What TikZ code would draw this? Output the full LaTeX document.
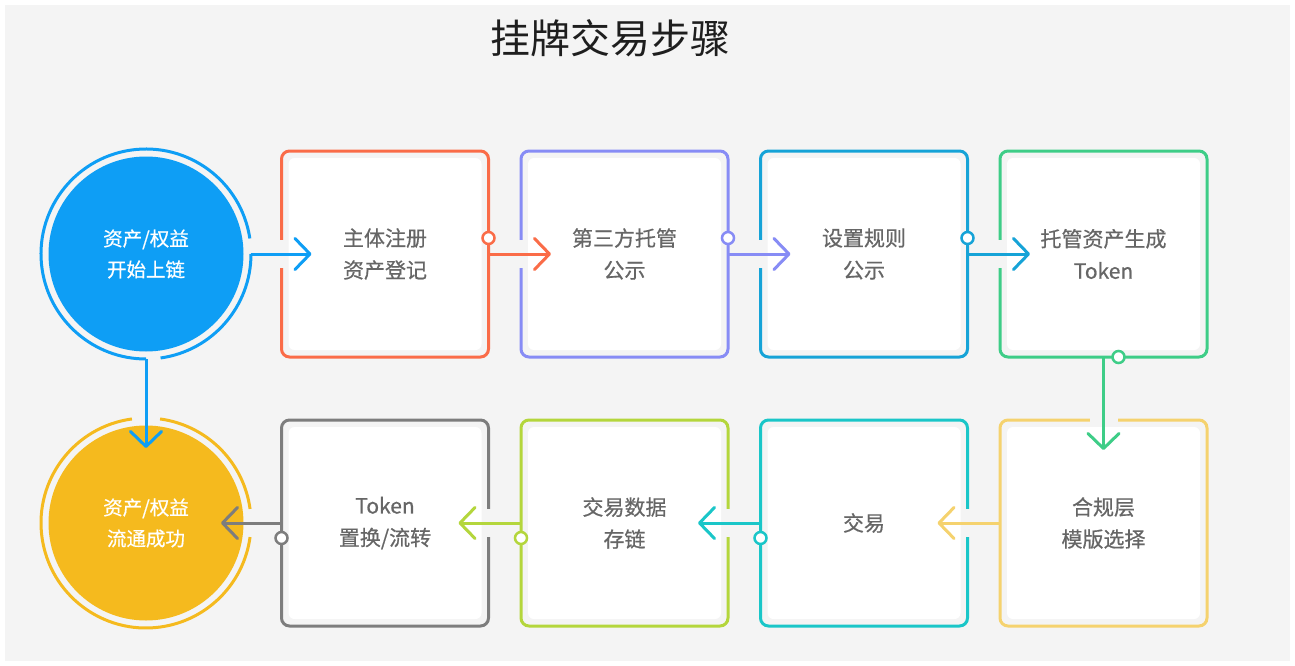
\documentclass[tikz,border=0pt]{standalone}
\usepackage{fontspec}
\setmainfont{Noto Sans CJK SC}
\newfontfamily\stepfont[FakeBold=0.6]{Noto Sans CJK SC}
\usetikzlibrary{positioning, arrows.meta}

\definecolor{bggray}{RGB}{244,244,244}
\definecolor{txtgray}{RGB}{102,102,102}
\definecolor{titleblack}{RGB}{30,30,30}
\definecolor{cstart}{RGB}{14,158,245}
\definecolor{cdone}{RGB}{245,186,30}
\definecolor{corange}{RGB}{250,108,72}
\definecolor{cpurple}{RGB}{135,140,245}
\definecolor{cblue}{RGB}{22,163,215}
\definecolor{cgreen}{RGB}{62,205,135}
\definecolor{cyellow}{RGB}{245,210,110}
\definecolor{cteal}{RGB}{26,198,200}
\definecolor{clime}{RGB}{180,214,60}
\definecolor{cgray}{RGB}{125,125,125}

\begin{document}
\begin{tikzpicture}[x=1pt, y=1pt, node distance=32.5pt,
  stepbox/.style={rectangle, draw=#1, line width=3pt, rounded corners=8pt,
    fill=bggray, minimum width=207pt, minimum height=206pt,
    inner sep=0pt, outer sep=0pt, text=txtgray, align=center,
    font=\stepfont\fontsize{21pt}{32pt}\selectfont,
    path picture={\fill[white, rounded corners=6pt]
      ([shift={(7pt,7pt)}]path picture bounding box.south west) rectangle
      ([shift={(-7pt,-7pt)}]path picture bounding box.north east);}},
  endnode/.style={circle, fill=#1, minimum size=195pt, inner sep=0pt,
    outer sep=0pt, text=white, align=center,
    font=\stepfont\fontsize{19.5pt}{31pt}\selectfont},
  ring/.style={draw=#1, line width=3pt},
  flow/.style={draw=#1, line width=3pt,
    -{Straight Barb[length=15pt, width=31pt, round]}},
  portdot/.style={circle, draw=#1, line width=2.5pt, fill=white,
    minimum size=12pt, inner sep=0pt}]

  \useasboundingbox (0,0) rectangle (1295,-666);
  \fill[white] (0,0) rectangle (1295,-666);
  \fill[bggray] (5,-5) rectangle (1290,-661);

  \node[text=titleblack, font=\fontsize{40pt}{44pt}\selectfont] (title) at (610,-38) {挂牌交易步骤};

  % steps, top row left to right, bottom row right to left
  \node[stepbox=corange] (b1) at (385,-254) {主体注册\\资产登记};
  \node[stepbox=cpurple, right=of b1] (b2) {第三方托管\\公示};
  \node[stepbox=cblue, right=of b2] (b3) {设置规则\\公示};
  \node[stepbox=cgreen, right=of b3] (b4) {托管资产生成\\Token};
  \node[stepbox=cyellow, below=63pt of b4] (b5) {合规层\\模版选择};
  \node[stepbox=cteal, left=of b5] (b6) {交易};
  \node[stepbox=clime, left=of b6] (b7) {交易数据\\存链};
  \node[stepbox=cgray, left=of b7] (b8) {Token\\置换/流转};

  \node[endnode=cstart, left=38pt of b1] (start) {资产/权益\\开始上链};
  \node[endnode=cdone, left=38pt of b8] (done) {资产/权益\\流通成功};

  % openings where the arrows come in
  \foreach \a in {b1.west, b2.west, b3.west, b4.west, b6.east, b7.east, b8.east}
    \fill[bggray] ([shift={(-3pt,-14pt)}]\a) rectangle ([shift={(3pt,14pt)}]\a);
  \fill[bggray] ([shift={(-14pt,-3pt)}]b5.north) rectangle ([shift={(14pt,3pt)}]b5.north);

  % rings round the two end nodes
  \draw[ring=cstart] ([shift={(8.5:105pt)}]start.center) arc[start angle=8.5, end angle=270, radius=105pt];
  \draw[ring=cstart] ([shift={(-82:105pt)}]start.center) arc[start angle=-82, end angle=0, radius=105pt];
  \draw[ring=cdone] ([shift={(7.7:105pt)}]done.center) arc[start angle=7.7, end angle=82.3, radius=105pt];
  \draw[ring=cdone] ([shift={(97.7:105pt)}]done.center) arc[start angle=97.7, end angle=352.3, radius=105pt];

  % connectors
  \draw[flow=cstart] ([xshift=105pt]start.center) -- ([xshift=30pt]b1.west);
  \draw[flow=cstart] ([yshift=-105pt]start.center) -- ([yshift=75pt]done.center);
  \draw[flow=corange] (b1.east) -- ([xshift=30pt]b2.west);
  \draw[flow=cpurple] (b2.east) -- ([xshift=30pt]b3.west);
  \draw[flow=cblue] (b3.east) -- ([xshift=30pt]b4.west);
  \draw[flow=cgreen] (b4.south) -- ([yshift=-30pt]b5.north);
  \draw[flow=cyellow] (b5.west) -- ([xshift=-30pt]b6.east);
  \draw[flow=cteal] (b6.west) -- ([xshift=-30pt]b7.east);
  \draw[flow=clime] (b7.west) -- ([xshift=-30pt]b8.east);
  \draw[flow=cgray] (b8.west) -- ([xshift=75pt]done.center);

  \node[portdot=corange] at ([yshift=16pt]b1.east) {};
  \node[portdot=cpurple] at ([yshift=16pt]b2.east) {};
  \node[portdot=cblue] at ([yshift=16pt]b3.east) {};
  \node[portdot=cgreen] at ([xshift=15pt]b4.south) {};
  \node[portdot=cteal] at ([yshift=-15pt]b6.west) {};
  \node[portdot=clime] at ([yshift=-15pt]b7.west) {};
  \node[portdot=cgray] at ([yshift=-15pt]b8.west) {};
\end{tikzpicture}
\end{document}
